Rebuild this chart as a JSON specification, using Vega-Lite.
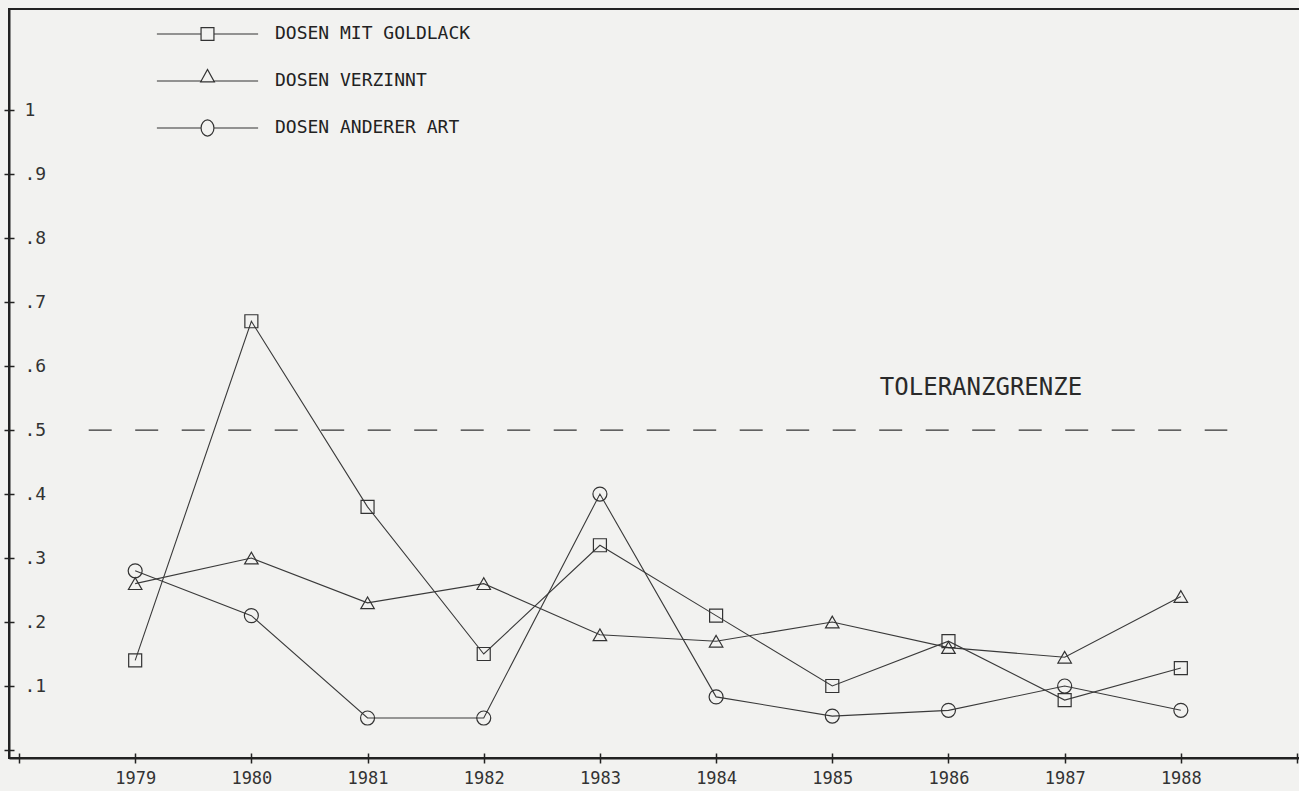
{
  "$schema": "https://vega.github.io/schema/vega-lite/v6.json",
  "width": 1295,
  "height": 749,
  "autosize": {"type": "none"},
  "padding": {"left": 9, "top": 9, "right": 0, "bottom": 33},
  "background": "#f2f2f0",
  "config": {
    "view": {"stroke": "#222", "strokeWidth": 2},
    "font": "DejaVu Sans Mono"
  },
  "data": {
    "values": [
      {"year": 1979, "serie": "DOSEN MIT GOLDLACK", "value": 0.14},
      {"year": 1980, "serie": "DOSEN MIT GOLDLACK", "value": 0.67},
      {"year": 1981, "serie": "DOSEN MIT GOLDLACK", "value": 0.38},
      {"year": 1982, "serie": "DOSEN MIT GOLDLACK", "value": 0.15},
      {"year": 1983, "serie": "DOSEN MIT GOLDLACK", "value": 0.32},
      {"year": 1984, "serie": "DOSEN MIT GOLDLACK", "value": 0.21},
      {"year": 1985, "serie": "DOSEN MIT GOLDLACK", "value": 0.1},
      {"year": 1986, "serie": "DOSEN MIT GOLDLACK", "value": 0.17},
      {"year": 1987, "serie": "DOSEN MIT GOLDLACK", "value": 0.078},
      {"year": 1988, "serie": "DOSEN MIT GOLDLACK", "value": 0.128},
      {"year": 1979, "serie": "DOSEN VERZINNT", "value": 0.26},
      {"year": 1980, "serie": "DOSEN VERZINNT", "value": 0.3},
      {"year": 1981, "serie": "DOSEN VERZINNT", "value": 0.23},
      {"year": 1982, "serie": "DOSEN VERZINNT", "value": 0.26},
      {"year": 1983, "serie": "DOSEN VERZINNT", "value": 0.18},
      {"year": 1984, "serie": "DOSEN VERZINNT", "value": 0.17},
      {"year": 1985, "serie": "DOSEN VERZINNT", "value": 0.2},
      {"year": 1986, "serie": "DOSEN VERZINNT", "value": 0.16},
      {"year": 1987, "serie": "DOSEN VERZINNT", "value": 0.145},
      {"year": 1988, "serie": "DOSEN VERZINNT", "value": 0.24},
      {"year": 1979, "serie": "DOSEN ANDERER ART", "value": 0.28},
      {"year": 1980, "serie": "DOSEN ANDERER ART", "value": 0.21},
      {"year": 1981, "serie": "DOSEN ANDERER ART", "value": 0.05},
      {"year": 1982, "serie": "DOSEN ANDERER ART", "value": 0.05},
      {"year": 1983, "serie": "DOSEN ANDERER ART", "value": 0.4},
      {"year": 1984, "serie": "DOSEN ANDERER ART", "value": 0.083},
      {"year": 1985, "serie": "DOSEN ANDERER ART", "value": 0.053},
      {"year": 1986, "serie": "DOSEN ANDERER ART", "value": 0.062},
      {"year": 1987, "serie": "DOSEN ANDERER ART", "value": 0.1},
      {"year": 1988, "serie": "DOSEN ANDERER ART", "value": 0.062}
    ]
  },
  "resolve": {
    "axis": {"x": "independent", "y": "independent"},
    "scale": {"shape": "independent"},
    "legend": {"shape": "independent"}
  },
  "layer": [
    {
      "mark": {"type": "line", "stroke": "#3a3a3a", "strokeWidth": 1.1},
      "encoding": {
        "x": {
          "field": "year", "type": "quantitative",
          "scale": {"domain": [1977.914, 1989.06], "nice": false, "zero": false},
          "axis": {
            "orient": "bottom", "title": null, "grid": false,
            "values": [1978, 1979, 1980, 1981, 1982, 1983, 1984, 1985, 1986, 1987, 1988, 1989],
            "labelExpr": "datum.value < 1978.5 || datum.value > 1988.5 ? '' : datum.label",
            "format": "d",
            "domain": true, "domainColor": "#222", "domainWidth": 2,
            "ticks": true, "tickSize": 5, "tickColor": "#222", "tickWidth": 1.5,
            "labelFont": "DejaVu Sans Mono", "labelFontSize": 17, "labelColor": "#333",
            "labelPadding": 7, "labelBaseline": "top", "labelFlush": false
          }
        },
        "y": {
          "field": "value", "type": "quantitative",
          "scale": {"domain": [-0.0125, 1.158], "nice": false, "zero": false},
          "axis": {
            "orient": "left", "title": null, "grid": false,
            "values": [0, 0.1, 0.2, 0.3, 0.4, 0.5, 0.6, 0.7, 0.8, 0.9, 1],
            "labels": false,
            "domain": true, "domainColor": "#222", "domainWidth": 2,
            "ticks": true, "tickSize": 5, "tickColor": "#222", "tickWidth": 1.5
          }
        },
        "detail": {"field": "serie"}
      }
    },
    {
      "mark": {"type": "point", "filled": false, "stroke": "#333", "strokeWidth": 1.2, "opacity": 1},
      "encoding": {
        "x": {
          "field": "year", "type": "quantitative",
          "axis": {
            "orient": "bottom", "title": null, "grid": false, "labels": false,
            "domain": false, "ticks": true, "tickSize": -5, "tickColor": "#222", "tickWidth": 1.5,
            "values": [1978, 1979, 1980, 1981, 1982, 1983, 1984, 1985, 1986, 1987, 1988, 1989]
          }
        },
        "y": {
          "field": "value", "type": "quantitative",
          "axis": {
            "orient": "left", "title": null, "grid": false,
            "values": [0, 0.1, 0.2, 0.3, 0.4, 0.5, 0.6, 0.7, 0.8, 0.9, 1],
            "labelExpr": "datum.value < 0.05 ? '' : datum.value > 0.95 ? '1' : '.' + round(datum.value * 10)",
            "domain": false, "ticks": true, "tickSize": -5, "tickColor": "#222", "tickWidth": 1.5,
            "labelAlign": "left", "labelBaseline": "middle", "labelPadding": -10,
            "labelFont": "DejaVu Sans Mono", "labelFontSize": 18, "labelColor": "#333"
          }
        },
        "shape": {
          "field": "serie", "type": "nominal",
          "scale": {
            "domain": ["DOSEN MIT GOLDLACK", "DOSEN VERZINNT", "DOSEN ANDERER ART"],
            "range": ["square", "triangle-up", "circle"]
          },
          "legend": null
        },
        "size": {
          "field": "serie", "type": "nominal",
          "scale": {
            "domain": ["DOSEN MIT GOLDLACK", "DOSEN VERZINNT", "DOSEN ANDERER ART"],
            "range": [169, 196, 270]
          },
          "legend": null
        }
      }
    },
    {
      "transform": [{"filter": "false"}],
      "mark": {"type": "point", "filled": false, "stroke": "#333", "strokeWidth": 1.2},
      "encoding": {
        "x": {"field": "year", "type": "quantitative", "axis": null},
        "y": {"field": "value", "type": "quantitative", "axis": null},
        "shape": {
          "field": "serie", "type": "nominal",
          "scale": {
            "domain": ["DOSEN MIT GOLDLACK", "DOSEN VERZINNT", "DOSEN ANDERER ART"],
            "range": [
              "M-2.2,0H-0.28M0.28,0H2.2M-0.28,-0.28H0.28V0.28H-0.28Z",
              "M-2.2,0H-0.3M0.3,0H2.2M-0.3,0.04L0,-0.5L0.3,0.04Z",
              "M-2.2,0H-0.28M0.28,0H2.2M-0.28,0A0.28,0.35 0 1,0 0.28,0A0.28,0.35 0 1,0 -0.28,0Z"
            ]
          },
          "legend": {
            "orient": "none", "legendX": 174.5, "legendY": 1, "direction": "vertical",
            "title": null, "symbolSize": 2116, "labelFont": "DejaVu Sans Mono",
            "labelFontSize": 18, "labelColor": "#222", "labelOffset": 43.5, "labelLimit": 500,
            "rowPadding": 14, "symbolStrokeColor": "#333", "symbolStrokeWidth": 1.2,
            "symbolFillColor": "transparent", "symbolOpacity": 1
          }
        }
      }
    },
    {
      "data": {"values": [{}]},
      "mark": {"type": "rule", "stroke": "#333", "strokeWidth": 1.3, "strokeDash": [23, 23.5]},
      "encoding": {
        "x": {"datum": 1978.6, "type": "quantitative", "axis": null},
        "x2": {"datum": 1988.4},
        "y": {"datum": 0.5, "type": "quantitative", "axis": null}
      }
    },
    {
      "data": {"values": [{}]},
      "mark": {"type": "text", "text": "TOLERANZGRENZE", "font": "DejaVu Sans Mono", "fontSize": 24, "color": "#2a2a2a", "align": "center", "baseline": "middle"},
      "encoding": {
        "x": {"datum": 1986.28, "type": "quantitative", "axis": null},
        "y": {"datum": 0.566, "type": "quantitative", "axis": null}
      }
    }
  ]
}
